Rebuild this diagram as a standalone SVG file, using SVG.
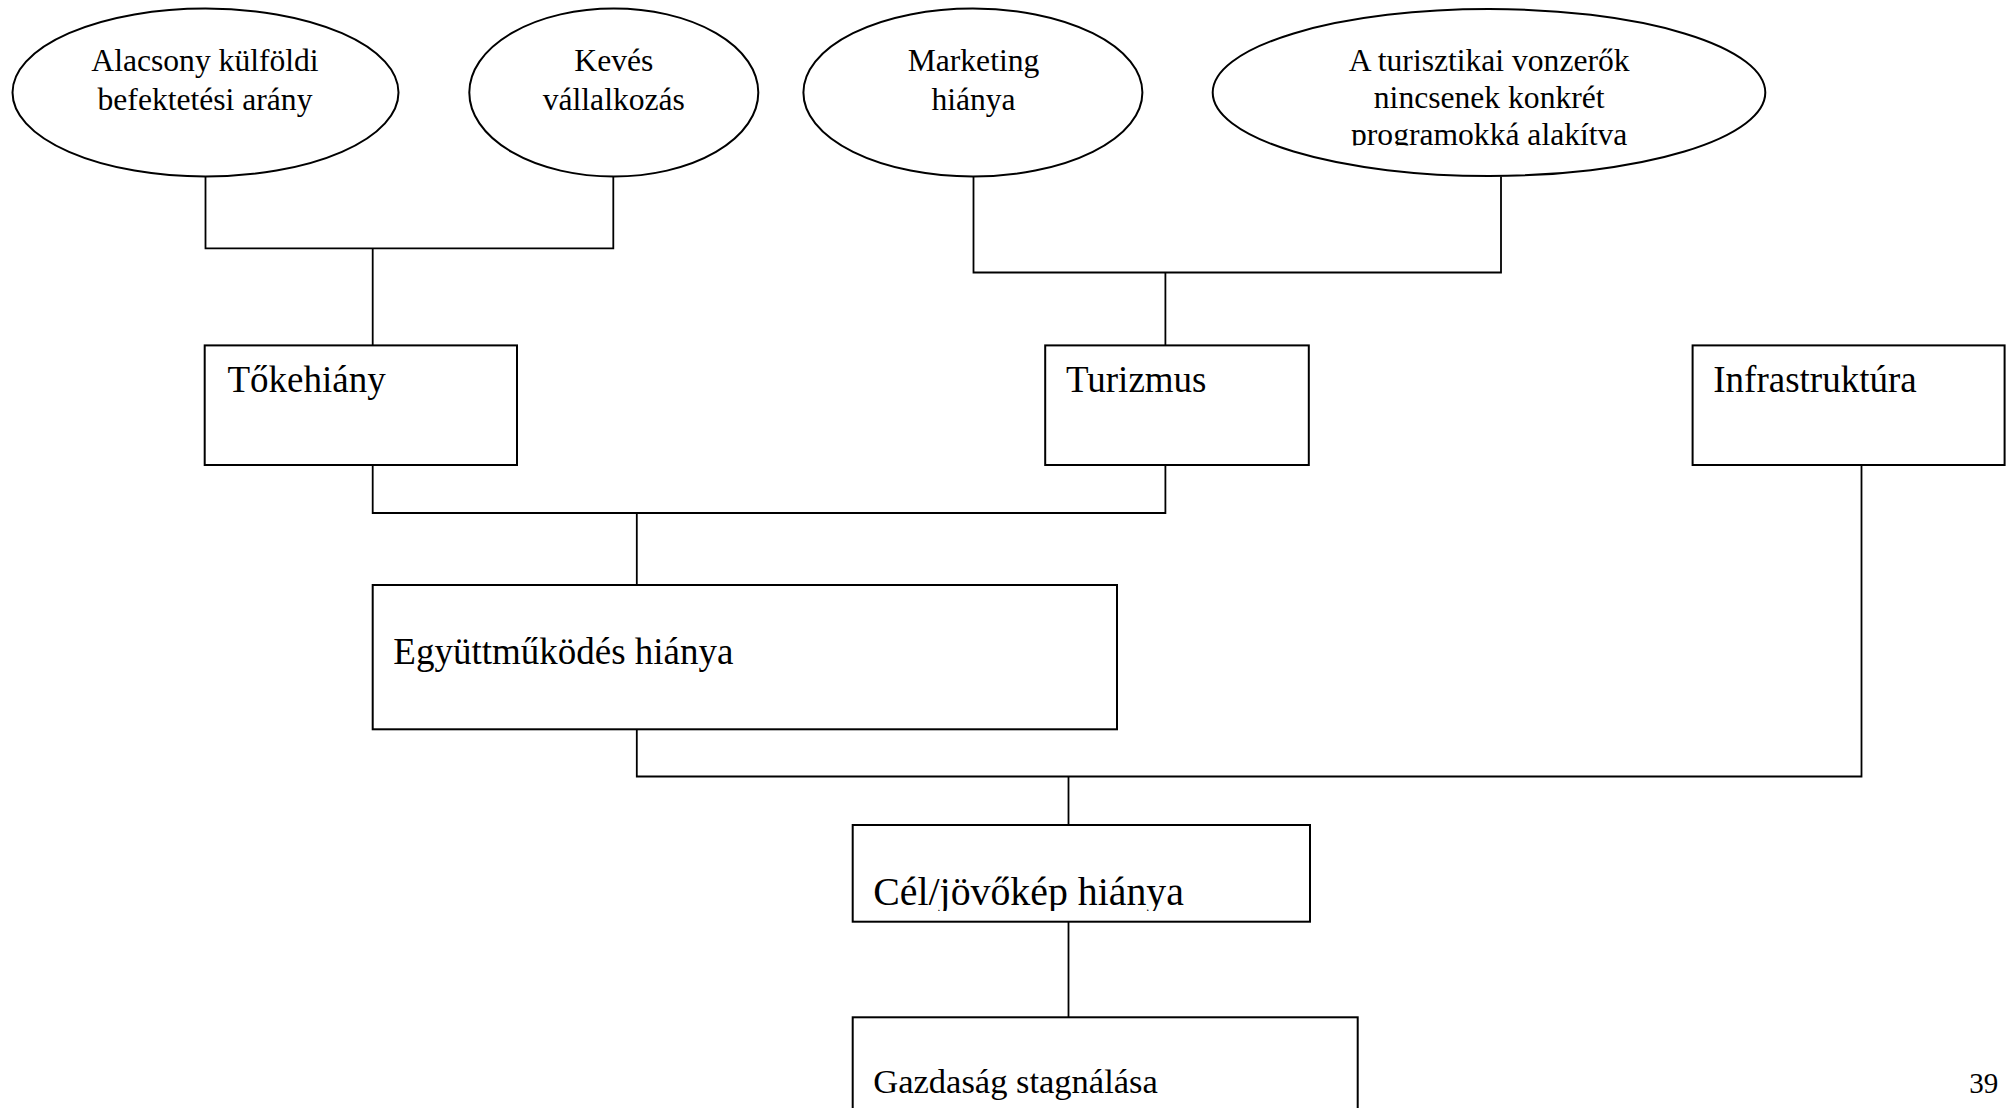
<svg xmlns="http://www.w3.org/2000/svg" width="2006" height="1108" viewBox="0 0 2006 1108">
<style>
  .shape { fill: #ffffff; stroke: #000000; stroke-width: 2; }
  .conn { fill: none; stroke: #000000; stroke-width: 1.8; }
  .t { font-family: "Liberation Serif", "Times New Roman", serif; fill: #000000; }
  .el { font-size: 31.6px; text-anchor: middle; }
  .bx { font-size: 37px; }
</style>
<defs>
  <clipPath id="clipE4"><rect x="1212" y="0" width="556" height="145.5"/></clipPath>
  <clipPath id="clipCel"><rect x="852" y="825" width="458" height="86"/></clipPath>
</defs>
<rect x="0" y="0" width="2006" height="1108" fill="#ffffff"/>

<g id="connectors">
  <polyline class="conn" points="205.5,176.5 205.5,248.3 613.3,248.3 613.3,176.5"/>
  <line class="conn" x1="372.7" y1="248.3" x2="372.7" y2="345.4"/>
  <polyline class="conn" points="973.5,176.5 973.5,272.5 1501,272.5 1501,176.5"/>
  <line class="conn" x1="1165.4" y1="272.5" x2="1165.4" y2="345.4"/>
  <polyline class="conn" points="372.7,465 372.7,513 1165.4,513 1165.4,465"/>
  <line class="conn" x1="636.8" y1="513" x2="636.8" y2="585"/>
  <polyline class="conn" points="636.8,729.3 636.8,776.5 1861.5,776.5 1861.5,465"/>
  <line class="conn" x1="1068.5" y1="776.5" x2="1068.5" y2="825"/>
  <line class="conn" x1="1068.5" y1="921.7" x2="1068.5" y2="1017.3"/>
</g>

<g id="node-alacsony">
  <ellipse class="shape" cx="205.5" cy="92.5" rx="193" ry="84"/>
  <text class="t el" x="205" y="71">Alacsony külföldi</text>
  <text class="t el" x="205" y="109.5">befektetési arány</text>
</g>

<g id="node-keves">
  <ellipse class="shape" cx="613.8" cy="92.5" rx="144.5" ry="84"/>
  <text class="t el" x="613.8" y="71">Kevés</text>
  <text class="t el" x="613.8" y="109.5">vállalkozás</text>
</g>

<g id="node-marketing">
  <ellipse class="shape" cx="972.9" cy="92.5" rx="169.5" ry="84"/>
  <text class="t el" x="973.5" y="71">Marketing</text>
  <text class="t el" x="973.5" y="109.5">hiánya</text>
</g>

<g id="node-vonzerok">
  <ellipse class="shape" cx="1489" cy="92.5" rx="276.3" ry="83.5"/>
  <g clip-path="url(#clipE4)">
    <text class="t el" x="1489.2" y="70.5">A turisztikai vonzerők</text>
    <text class="t el" x="1489.2" y="108">nincsenek konkrét</text>
    <text class="t el" x="1489.2" y="145">programokká alakítva</text>
  </g>
</g>

<g id="node-tokehiany">
  <rect class="shape" x="204.7" y="345.4" width="312.3" height="119.6"/>
  <text class="t bx" x="227.5" y="392">Tőkehiány</text>
</g>

<g id="node-turizmus">
  <rect class="shape" x="1045.2" y="345.4" width="263.6" height="119.6"/>
  <text class="t bx" x="1066" y="392">Turizmus</text>
</g>

<g id="node-infrastruktura">
  <rect class="shape" x="1692.6" y="345.4" width="312" height="119.6"/>
  <text class="t bx" x="1713.3" y="392">Infrastruktúra</text>
</g>

<g id="node-egyuttmukodes">
  <rect class="shape" x="372.7" y="585" width="744.3" height="144.3"/>
  <text class="t bx" x="393.3" y="663.5">Együttműködés hiánya</text>
</g>

<g id="node-cel">
  <rect class="shape" x="852.7" y="825" width="457.3" height="96.7"/>
  <g clip-path="url(#clipCel)">
    <text class="t" font-size="39.8" x="873.3" y="905">Cél/jövőkép hiánya</text>
  </g>
</g>

<g id="node-gazdasag">
  <rect class="shape" x="852.7" y="1017.3" width="505" height="120"/>
  <text class="t" font-size="34.5" x="873.3" y="1092.5">Gazdaság stagnálása</text>
</g>

<text class="t" font-size="29" x="1969.3" y="1093">39</text>
</svg>
